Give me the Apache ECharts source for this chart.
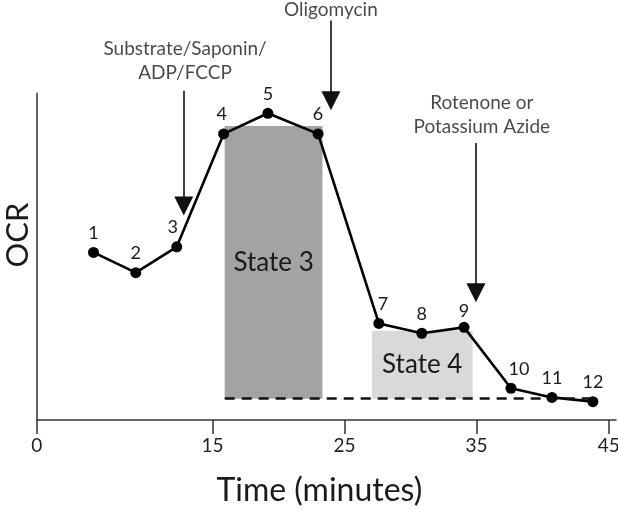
<!DOCTYPE html>
<html>
<head>
<meta charset="utf-8">
<script src="https://cdn.jsdelivr.net/npm/echarts@6/dist/echarts.min.js"></script>
<style>
html,body{margin:0;padding:0;background:#fff;}
#chart{width:618px;height:515px;}
</style>
</head>
<body>
<div id="chart"></div>
<script>
// ---- data ----
const times = [6.0, 9.2, 12.3, 15.85, 19.2, 23.0, 27.6, 30.85, 34.05, 37.6, 40.7, 43.8];
const ocr = [51.2, 45.0, 52.9, 87.4, 93.7, 87.4, 29.5, 26.5, 28.3, 9.7, 6.9, 5.6];
const pointLabels = ['1','2','3','4','5','6','7','8','9','10','11','12'];

const xTickValues = [1.7, 15, 25, 35, 45];
const xTickLabels = ['0', '15', '25', '35', '45'];

const stateNames = ['State 3', 'State 4'];
const stateStart = [15.93, 27.07];
const stateEnd = [23.33, 34.70];
const stateTop = [89.8, 27.3];
const baselineOCR = 6.5;
const baselineEnd = 44.2;

const arrowX = [12.83, 23.97, 34.95];
const arrowTop = [100.6, 122.0, 84.6];
const arrowTip = [65.4, 97.5, 38.9];

const annoText = ['Substrate/Saponin/\nADP/FCCP', 'Oligomycin', 'Rotenone or\nPotassium Azide'];
const annoX = [12.93, 23.97, 35.39];
const annoY = [109.7, 125.3, 93.1];

const yAxisTop = 100;
const xMin = 1.7, xMax = 45.55, yMax = 128.3;

// ---- build ----
const FONT = 'Lato';
const labelOffsets = {2: [-4, 0], 3: [-2, 0], 6: [4, 0], 8: [0, 3], 9: [8, 0]};

const lineData = times.map((t, i) => {
  const d = {value: [t, ocr[i]]};
  if (labelOffsets[i]) d.label = {offset: labelOffsets[i]};
  return d;
});

const areaColors = ['#a3a3a3', '#d9d9d9'];
const markAreaData = stateNames.map((n, i) => [
  {name: n, coord: [stateStart[i], baselineOCR], itemStyle: {color: areaColors[i]}},
  {coord: [stateEnd[i], stateTop[i]]}
]);

const markLineData = [];
markLineData.push([
  {coord: [xMin, 0], symbol: 'none', lineStyle: {color: '#333', width: 1.5, type: 'solid'}},
  {coord: [xMin, yAxisTop], symbol: 'none'}
]);
markLineData.push([
  {coord: [stateStart[0], baselineOCR], symbol: 'none', lineStyle: {color: '#111', width: 2.6, type: [10, 7]}},
  {coord: [baselineEnd, baselineOCR], symbol: 'none'}
]);
arrowX.forEach((x, i) => {
  markLineData.push([
    {coord: [x, arrowTop[i]], symbol: 'none', lineStyle: {color: '#111', width: 1.6, type: 'solid'}},
    {coord: [x, arrowTip[i]], symbol: 'triangle', symbolSize: [19, 19]}
  ]);
});

const chart = echarts.init(document.getElementById('chart'), null, {renderer: 'canvas'});
chart.setOption({
  animation: false,
  backgroundColor: '#fff',
  textStyle: {fontFamily: FONT},
  grid: {left: 36.7, right: 2, top: 0, bottom: 95, containLabel: false, outerBoundsMode: 'none'},
  xAxis: {
    type: 'value', min: xMin, max: xMax,
    name: 'Time (minutes)', nameLocation: 'middle', nameGap: 55,
    nameTextStyle: {fontFamily: FONT, fontSize: 32, color: '#1a1a1a', padding: [0, 14, 0, 0]},
    axisLine: {show: true, lineStyle: {color: '#333', width: 1.5}},
    axisTick: {show: true, length: 14, customValues: xTickValues, lineStyle: {color: '#333', width: 1.5}},
    axisLabel: {
      show: true, customValues: xTickValues, margin: 16,
      fontFamily: FONT, fontSize: 19, color: '#222',
      formatter: v => { const k = xTickValues.findIndex(t => Math.abs(t - v) < 1e-6); return k >= 0 ? xTickLabels[k] : ''; }
    },
    splitLine: {show: false}
  },
  yAxis: {
    type: 'value', min: 0, max: yMax,
    name: 'OCR', nameLocation: 'middle', nameGap: 3, nameRotate: 90,
    nameTextStyle: {fontFamily: FONT, fontSize: 31, color: '#1a1a1a', padding: [0, 50, 0, 0]},
    axisLine: {show: false}, axisTick: {show: false}, axisLabel: {show: false}, splitLine: {show: false}
  },
  series: [
    {
      type: 'line', data: lineData, z: 3,
      symbol: 'circle', symbolSize: 11,
      itemStyle: {color: '#000'},
      lineStyle: {color: '#000', width: 2.6},
      label: {
        show: true, position: 'top', distance: 5,
        fontFamily: FONT, fontSize: 18, color: '#1a1a1a',
        formatter: p => pointLabels[p.dataIndex]
      },
      markArea: {
        silent: true,
        label: {show: true, position: 'inside', fontFamily: FONT, fontSize: 26, color: '#1a1a1a'},
        data: markAreaData
      },
      markLine: {
        silent: true, animation: false,
        symbol: ['none', 'none'],
        label: {show: false},
        emphasis: {disabled: true},
        data: markLineData
      }
    },
    {
      type: 'scatter', symbolSize: 0, silent: true, z: 4,
      data: annoX.map((x, i) => [x, annoY[i]]),
      label: {
        show: true, position: 'inside',
        fontFamily: FONT, fontSize: 19, lineHeight: 24, color: '#1a1a1a', align: 'center',
        formatter: p => annoText[p.dataIndex]
      }
    }
  ]
});
</script>
</body>
</html>
